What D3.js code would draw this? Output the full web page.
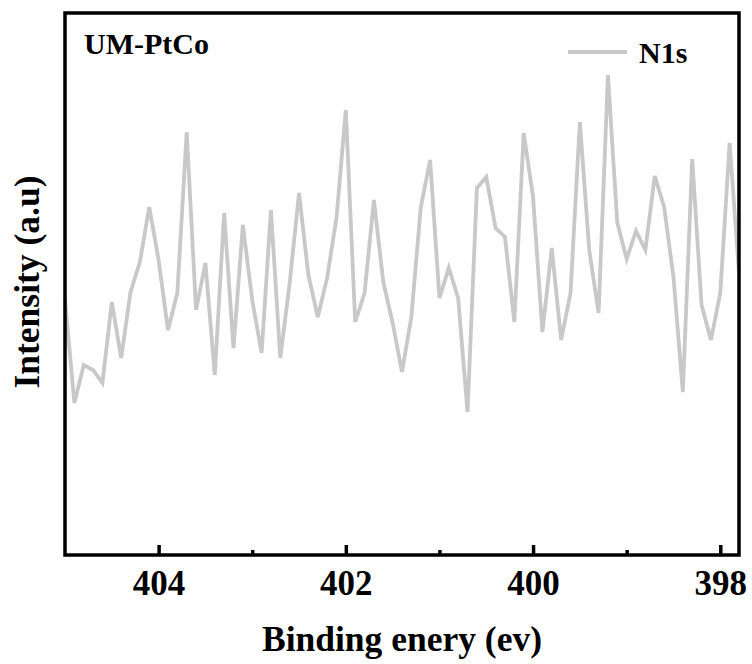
<!doctype html>
<html>
<head>
<meta charset="utf-8">
<script src="https://cdnjs.cloudflare.com/ajax/libs/d3/7.8.5/d3.min.js"></script>
<style>
body { margin: 0; background: #fff; }
svg { display: block; }
text { font-family: "Liberation Serif", "Times New Roman", serif; font-weight: bold; fill: #000; }
</style>
</head>
<body>
<svg id="chart" width="752" height="664"></svg>
<script>
// binding energy (eV), 0.1 eV steps from 405.0 down to 397.8
var energy = d3.range(0, 73).map(i => +(405 - i * 0.1).toFixed(1));

// N1s intensity (a.u.)
var intensity = [
  255, 152, 190, 185, 172, 253, 197, 263, 293, 348,
  295, 225, 262, 423, 245, 292, 180, 342, 207, 330,
  255, 202, 345, 197, 272, 362, 280, 238, 277, 337,
  445, 233, 262, 355, 273, 232, 183, 238, 347, 395,
  257, 287, 257, 143, 367, 378, 327, 318, 233, 422,
  358, 223, 307, 215, 262, 433, 305, 242, 480, 332,
  296, 324, 305, 379, 348, 278, 163, 396, 250, 215,
  262, 412, 282
];

var majorTicks = [404, 402, 400, 398];
var minorTicks = [403, 401, 399];

var plotL = 65, plotR = 739, plotT = 13, plotB = 555;

var svg = d3.select("#chart");

var x = d3.scaleLinear().domain([405, 397.8]).range([plotL, plotR]);
var y = d3.scaleLinear().domain([0, 542]).range([plotB, plotT]);

var pts = energy.map((e, i) => ({e: e, v: intensity[i]}));

var line = d3.line()
  .x(d => x(d.e))
  .y(d => y(d.v));

svg.append("path")
  .datum(pts)
  .attr("fill", "none")
  .attr("stroke", "#c8c8c8")
  .attr("stroke-width", 3.8)
  .attr("stroke-linejoin", "miter")
  .attr("d", line);

// frame
svg.append("rect")
  .attr("x", plotL).attr("y", plotT)
  .attr("width", plotR - plotL).attr("height", plotB - plotT)
  .attr("fill", "none")
  .attr("stroke", "#000")
  .attr("stroke-width", 3.5);

// x axis, ticks pointing inward
var xAxis = svg.append("g").attr("transform", "translate(0," + plotB + ")");
xAxis.call(d3.axisBottom(x).tickValues(majorTicks).tickSize(-10).tickFormat(d3.format("d")));
xAxis.select(".domain").remove();
xAxis.selectAll(".tick line").attr("stroke", "#000").attr("stroke-width", 3.5);
xAxis.selectAll(".tick text")
  .attr("y", 40)
  .attr("dy", 0)
  .style("font-size", "35px")
  .style("font-family", "'Liberation Serif', serif")
  .style("font-weight", "bold");

var xMinor = svg.append("g").attr("transform", "translate(0," + plotB + ")");
xMinor.call(d3.axisBottom(x).tickValues(minorTicks).tickSize(-5).tickFormat(""));
xMinor.select(".domain").remove();
xMinor.selectAll(".tick line").attr("stroke", "#000").attr("stroke-width", 3.5);

// axis titles
svg.append("text")
  .attr("x", (plotL + plotR) / 2)
  .attr("y", 651)
  .attr("text-anchor", "middle")
  .style("font-size", "35.5px")
  .text("Binding enery (ev)");

svg.append("text")
  .attr("transform", "translate(39," + 282 + ") rotate(-90)")
  .attr("text-anchor", "middle")
  .style("font-size", "35.5px")
  .text("Intensity (a.u)");

// sample label
svg.append("text")
  .attr("x", 84)
  .attr("y", 54)
  .style("font-size", "30px")
  .text("UM-PtCo");

// legend
svg.append("line")
  .attr("x1", 568).attr("x2", 627)
  .attr("y1", 52).attr("y2", 52)
  .attr("stroke", "#c8c8c8")
  .attr("stroke-width", 3.8);

svg.append("text")
  .attr("x", 639)
  .attr("y", 63)
  .style("font-size", "30px")
  .text("N1s");
</script>
</body>
</html>
